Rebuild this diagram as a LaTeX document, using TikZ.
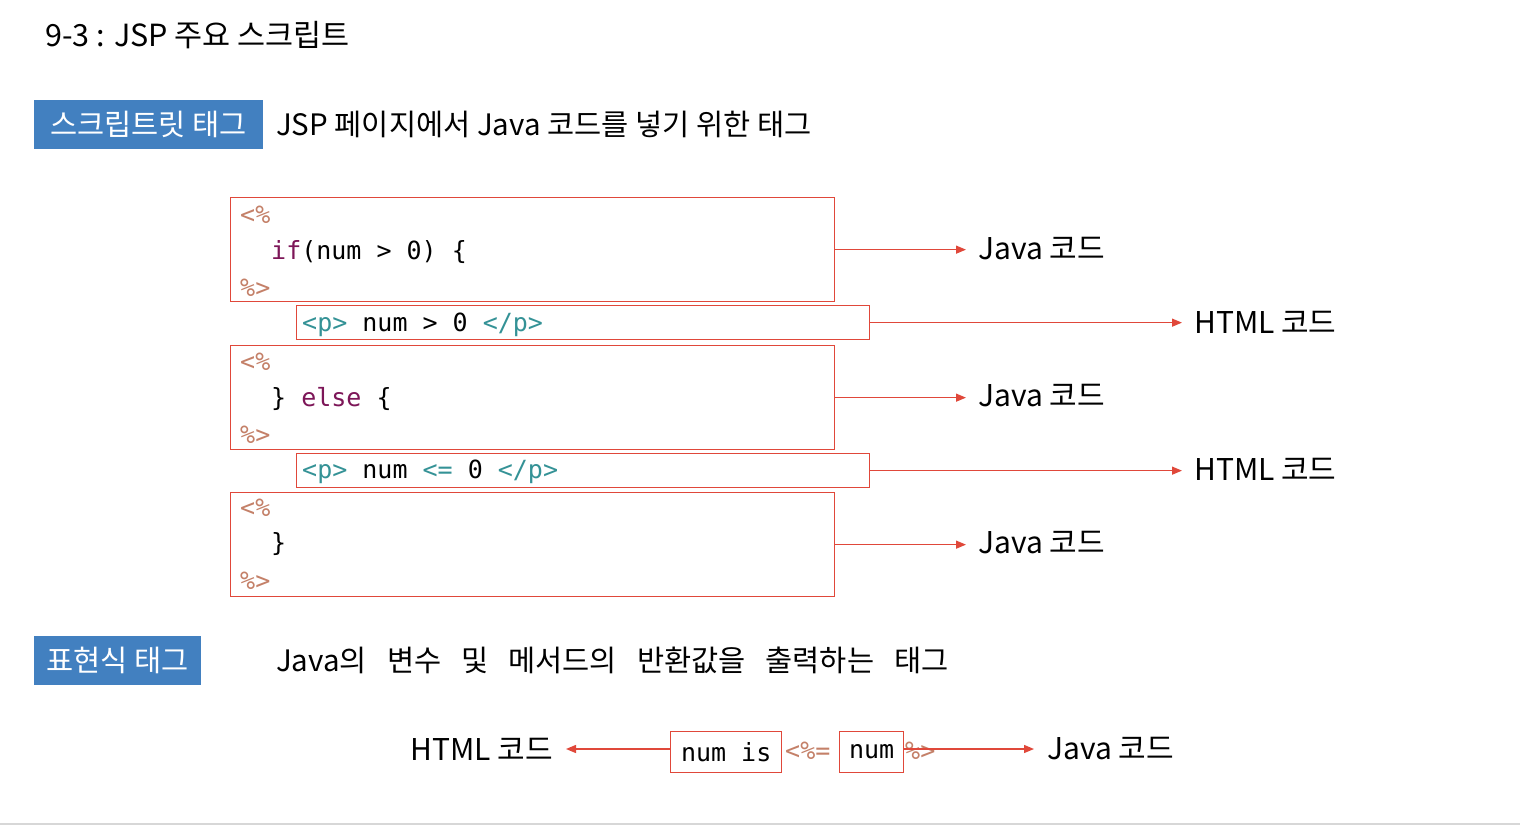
\documentclass[tikz,border=0pt]{standalone}
\usepackage{fontspec}
\setmainfont{Noto Sans CJK KR}
\newfontfamily\codefont{DejaVu Sans Mono}
\usetikzlibrary{arrows.meta}
\definecolor{boxred}{RGB}{224,72,58}
\definecolor{tagtan}{RGB}{196,128,104}
\definecolor{tagteal}{RGB}{52,146,150}
\definecolor{kwpurple}{RGB}{125,22,88}
\definecolor{labelblue}{RGB}{66,128,192}
\definecolor{rulegray}{RGB}{215,215,215}
\begin{document}
\begin{tikzpicture}[x=1pt,y=-1pt,
  codebox/.style={draw=boxred, line width=1.3pt, minimum width=604pt, minimum height=104pt, anchor=north west, inner sep=0pt},
  htmlbox/.style={draw=boxred, line width=1.3pt, minimum width=573pt, minimum height=34pt, anchor=north west, inner sep=0pt},
  smallbox/.style={draw=boxred, line width=1.3pt, minimum height=41pt, anchor=north west, inner sep=0pt},
  code/.style={font=\codefont\fontsize{25}{30}\selectfont, anchor=west, inner sep=0pt, text=black},
  tag/.style={code, text=tagtan},
  kr/.style={font=\fontsize{29.5}{34}\selectfont, anchor=west, inner sep=0pt, text=black},
  side/.style={kr, font=\fontsize{30}{36}\selectfont},
  bluelabel/.style={fill=labelblue, text=white, font=\fontsize{29.5}{34}\selectfont, minimum height=49pt, anchor=north west, inner sep=0pt},
  arr/.style={draw=boxred, line width=1.3pt, -{Triangle[length=10pt,width=8pt]}},
]
\useasboundingbox (0,0) rectangle (1520,826);
\fill[white] (0,0) rectangle (1520,826);
\draw[rulegray, line width=2pt] (0,824) -- (1520,824);

% title
\node[kr, font=\fontsize{30.5}{36}\selectfont] (title) at (45,35) {9-3 : JSP 주요 스크립트};

% scriptlet label
\node[bluelabel, minimum width=229pt] (lbl1) at (34,100) {스크립트릿 태그};
\node[kr] (desc1) at (276,124) {JSP 페이지에서 Java 코드를 넣기 위한 태그};

% code boxes
\node[codebox] (j1) at (230,197) {};
\node[htmlbox] (h1) at (296,305) {};
\node[codebox] (j2) at (230,345) {};
\node[htmlbox] (h2) at (296,453) {};
\node[codebox] (j3) at (230,492) {};

% box 1 content
\node[tag] (j1o) at (240,215) {<\%};
\node[code] (j1c) at (271,252) {\textcolor{kwpurple}{if}(num > 0) \{};
\node[tag] (j1e) at (240,288) {\%>};
% html 1
\node[code] (h1c) at (302,325) {\textcolor{tagteal}{<p>} num > 0 \textcolor{tagteal}{</p>}};
% box 2
\node[tag] (j2o) at (240,362) {<\%};
\node[code] (j2c) at (271,399) {\} \textcolor{kwpurple}{else} \{};
\node[tag] (j2e) at (240,435) {\%>};
% html 2
\node[code] (h2c) at (302,472) {\textcolor{tagteal}{<p>} num \textcolor{tagteal}{<=} 0 \textcolor{tagteal}{</p>}};
% box 3
\node[tag] (j3o) at (240,508) {<\%};
\node[code] (j3c) at (271,544) {\}};
\node[tag] (j3e) at (240,581) {\%>};

% right labels
\node[side] (lj1) at (978,249) {Java 코드};
\node[side] (lh1) at (1194,322) {HTML 코드};
\node[side] (lj2) at (978,396) {Java 코드};
\node[side] (lh2) at (1194,469) {HTML 코드};
\node[side] (lj3) at (978,543) {Java 코드};

\draw[arr, shorten >=12pt] (j1.east) -- (j1.east -| lj1.west);
\draw[arr, shorten >=12pt] (h1.east) -- (h1.east -| lh1.west);
\draw[arr, shorten >=12pt] (j2.east) -- (j2.east -| lj2.west);
\draw[arr, shorten >=12pt] (h2.east) -- (h2.east -| lh2.west);
\draw[arr, shorten >=12pt] (j3.east) -- (j3.east -| lj3.west);

% expression label
\node[bluelabel, minimum width=167pt] (lbl2) at (34,636) {표현식 태그};
\node[kr] (desc2) at (276,660) {Java의\hspace{20pt}변수\hspace{20pt}및\hspace{20pt}메서드의\hspace{20pt}반환값을\hspace{20pt}출력하는\hspace{20pt}태그};

% expression example
\node[smallbox, minimum width=111pt] (nis) at (670,731) {};
\node[code] at (nis.center) [anchor=center] (nist) {num is};
\node[tag] (eqo) at (785,751) {<\%=};
\node[smallbox, minimum width=64pt] (nn) at (839,731) {};
\node[code] at (nn.center) [anchor=center] (nnt) {num};
\node[tag] (eqc) at (905,751) {\%>};
\node[side, anchor=east] (lhb) at (553,749) {HTML 코드};
\node[side] (ljb) at (1047,749) {Java 코드};

\draw[arr, shorten >=13pt] (nis.west |- lhb.east) -- (lhb.east);
\draw[arr, shorten >=13pt] (nn.east |- ljb.west) -- (ljb.west);
\end{tikzpicture}
\end{document}
